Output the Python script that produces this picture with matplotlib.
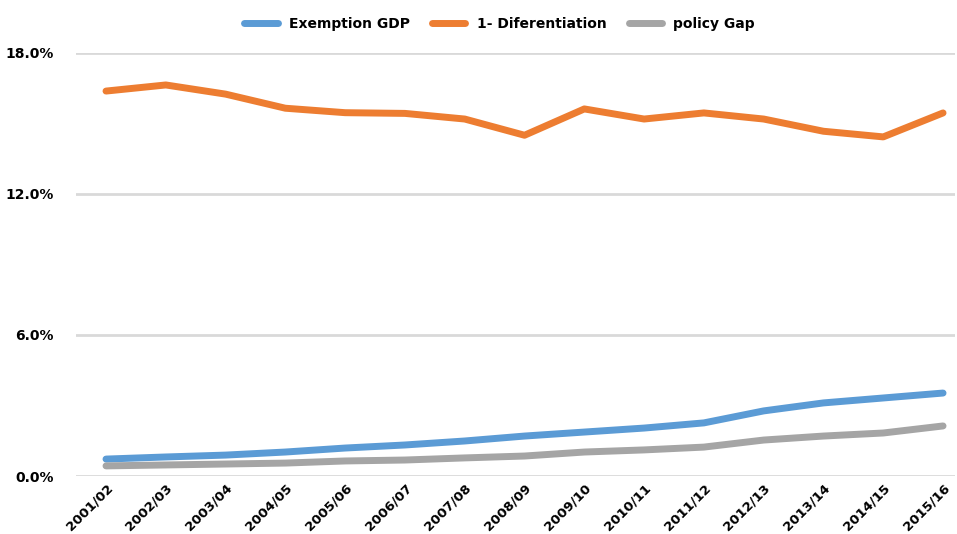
import matplotlib.pyplot as plt
import numpy as np

# données (en %)
annees = ["2001/02", "2002/03", "2003/04", "2004/05", "2005/06", "2006/07", "2007/08",
          "2008/09", "2009/10", "2010/11", "2011/12", "2012/13", "2013/14", "2014/15", "2015/16"]
exemption_gdp = [0.72, 0.81, 0.89, 1.02, 1.19, 1.32, 1.49, 1.70, 1.87, 2.04, 2.26, 2.77, 3.11, 3.32, 3.53]
differentiation = [16.38, 16.64, 16.25, 15.65, 15.46, 15.43, 15.19, 14.50, 15.62, 15.19, 15.45, 15.19, 14.67, 14.43, 15.45]
policy_gap = [0.43, 0.47, 0.51, 0.55, 0.64, 0.68, 0.77, 0.85, 1.02, 1.11, 1.23, 1.53, 1.70, 1.83, 2.13]

x = np.arange(len(annees))

fig = plt.figure(figsize=(9.57, 5.34), dpi=100)
ax = fig.add_axes([76/957, 58/534, (955-76)/957, (476-53)/534])

ax.plot(x, exemption_gdp, color='#5B9BD5', lw=5, solid_capstyle='round', label="Exemption GDP", clip_on=False)
ax.plot(x, differentiation, color='#ED7D31', lw=5, solid_capstyle='round', label="1- Diferentiation", clip_on=False)
ax.plot(x, policy_gap, color='#A5A5A5', lw=5, solid_capstyle='round', label="policy Gap", clip_on=False)

ax.set_ylim(0, 18)
ax.set_xlim(-0.502, 14.2)
ax.set_yticks([0, 6, 12, 18])
ax.set_yticklabels(["0.0%", "6.0%", "12.0%", "18.0%"], fontsize=10, fontweight='bold')
ax.set_xticks(x)
ax.set_xticklabels(annees, rotation=45, ha='right', rotation_mode='anchor', fontsize=9.5, fontweight='bold')
ax.tick_params(length=0, pad=4)
ax.tick_params(axis='y', pad=16)

ax.grid(axis='y', color='#D9D9D9', lw=2)
ax.set_axisbelow(True)
for s in ax.spines.values():
    s.set_visible(False)

leg = fig.legend(loc='center', bbox_to_anchor=(0.522, 1 - 24/534), ncol=3, frameon=False,
                 prop={'weight': 'bold', 'size': 10}, handlelength=2.4, columnspacing=1.6)

fig.savefig("out.png", dpi=100)
